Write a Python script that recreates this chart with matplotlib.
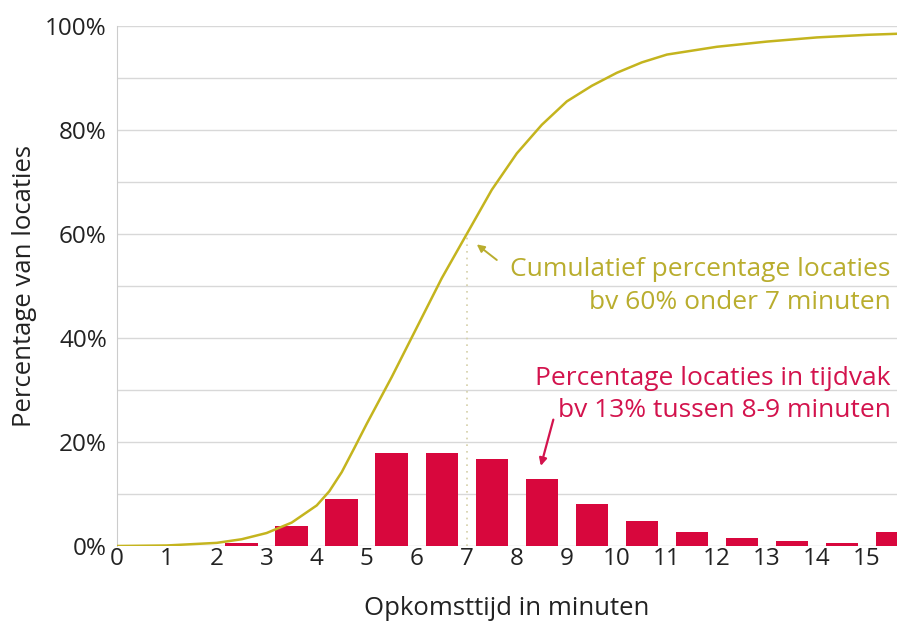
import matplotlib.pyplot as plt
import numpy as np

plt.rcParams['font.family'] = ['Open Sans', 'DejaVu Sans']

# histogram: percentage of locations per minute interval
bar_x = [2.5, 3.5, 4.5, 5.5, 6.5, 7.5, 8.5, 9.5, 10.5, 11.5, 12.5, 13.5, 14.5, 15.5]
bar_pct = [0.5, 3.9, 9.0, 17.9, 17.9, 16.8, 12.9, 8.0, 4.9, 2.6, 1.6, 1.0, 0.5, 2.6]

# cumulative curve
cum_x = [0, 1, 2, 2.5, 3, 3.5, 4, 4.25, 4.5, 4.75, 5, 5.5, 6, 6.5, 7, 7.5, 8,
         8.5, 9, 9.5, 10, 10.5, 11, 12, 13, 14, 15, 15.6]
cum_pct = [0, 0.1, 0.6, 1.3, 2.5, 4.5, 7.8, 10.5, 14.2, 18.8, 23.5, 32.5, 42,
           51.5, 60, 68.5, 75.5, 81, 85.5, 88.5, 91, 93, 94.5, 96, 97, 97.8,
           98.3, 98.5]

y_ticks = [0, 20, 40, 60, 80, 100]
x_ticks = list(range(16))

bar_col = '#d8073d'
curve_col = '#c4b41e'
text_yel = '#b9ad2e'
text_red = '#d3134d'

fig = plt.figure(figsize=(8.97, 6.26), dpi=100)
ax = fig.add_axes([0.130, 0.1278, 0.870, 0.8307])

for g in range(10, 101, 10):
    ax.axhline(g, color='#d8d8d8', lw=1, zorder=0)
ax.axhline(0, color='#cccccc', lw=1, zorder=0)

ax.bar(bar_x, bar_pct, width=0.65, color=bar_col, zorder=2)
ax.plot(cum_x, cum_pct, color=curve_col, lw=1.8, zorder=3)
ax.plot([7, 7], [0, 60], color='#d5d0a8', lw=1.2, ls=(0, (1, 3)), zorder=1)

ax.set_xlim(0, 15.6)
ax.set_ylim(0, 100)
ax.set_xticks(x_ticks)
ax.set_yticks(y_ticks)
ax.set_yticklabels([f'{v}%' for v in y_ticks])
ax.tick_params(length=0, labelsize=17.5, colors='#222222')
ax.tick_params(axis='x', pad=1)
ax.tick_params(axis='y', pad=7)
for s in ['top', 'right', 'bottom']:
    ax.spines[s].set_visible(False)
ax.spines['left'].set_color('#cccccc')

ax.set_xlabel('Opkomsttijd in minuten', fontsize=18.5, color='#222222', labelpad=18)
ax.set_ylabel('Percentage van locaties', fontsize=18.5, color='#222222', labelpad=6)

ax.text(15.47, 50.0, 'Cumulatief percentage locaties\nbv 60% onder 7 minuten',
        ha='right', va='center', fontsize=19, color=text_yel, linespacing=1.38)
ax.annotate('', xy=(7.2, 58.0), xytext=(7.6, 55.0),
            arrowprops=dict(arrowstyle='-|>', color=text_yel, lw=1.4,
                            mutation_scale=11, shrinkA=0, shrinkB=0))

ax.text(15.47, 29.2, 'Percentage locaties in tijdvak\nbv 13% tussen 8-9 minuten',
        ha='right', va='center', fontsize=19, color=text_red, linespacing=1.38)
ax.annotate('', xy=(8.48, 15.4), xytext=(8.73, 24.3),
            arrowprops=dict(arrowstyle='-|>', color=text_red, lw=1.6,
                            mutation_scale=11, shrinkA=0, shrinkB=0))

fig.savefig('out.png', dpi=100)
